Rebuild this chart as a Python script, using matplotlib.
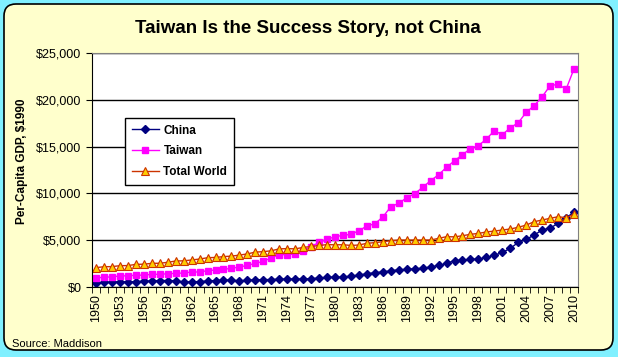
import matplotlib
matplotlib.use('Agg')
import matplotlib.pyplot as plt
from matplotlib.patches import FancyBboxPatch
from matplotlib.ticker import FuncFormatter

plt.rcParams['font.family'] = ['Liberation Sans', 'DejaVu Sans']

# Jahre (Kategorien)
years = list(range(1950, 2011))

# Pro-Kopf-BIP in 1990er Dollar
china = [448, 484, 537, 554, 558, 575, 619, 637, 693, 697,
         662, 553, 550, 590, 645, 690, 750, 740, 660, 730,
         770, 790, 800, 845, 850, 865, 855, 900, 960, 1035,
         1060, 1050, 1180, 1270, 1420, 1530, 1620, 1730, 1850, 1880,
         1960, 2000, 2150, 2300, 2520, 2830, 2850, 2960, 2980, 3170,
         3380, 3700, 4130, 4770, 5090, 5560, 6090, 6300, 6800, 7410,
         7980]
taiwan = [990, 1030, 1100, 1175, 1210, 1250, 1280, 1350, 1360, 1420,
          1460, 1500, 1600, 1610, 1745, 1820, 1890, 2000, 2140, 2310,
          2530, 2740, 3130, 3450, 3460, 3530, 3900, 4300, 4780, 5100,
          5370, 5520, 5630, 6010, 6520, 6760, 7480, 8580, 8940, 9540,
          9970, 10650, 11360, 12000, 12790, 13490, 14140, 14780, 15100, 15810,
          16700, 16270, 17020, 17550, 18670, 19370, 20330, 21510, 21660, 21120,
          23320]
world = [2070, 2170, 2180, 2280, 2290, 2420, 2440, 2530, 2540, 2640,
         2780, 2800, 2890, 2990, 3130, 3160, 3250, 3300, 3410, 3540,
         3730, 3780, 3870, 4080, 4100, 4080, 4230, 4330, 4440, 4530,
         4510, 4520, 4440, 4490, 4670, 4740, 4840, 4950, 5020, 5020,
         5020, 5020, 5020, 5200, 5380, 5360, 5480, 5630, 5730, 5880,
         5980, 6090, 6200, 6380, 6620, 6980, 7160, 7340, 7510, 7410,
         7760]

fig = plt.figure(figsize=(6.18, 3.57), dpi=100, facecolor='#80F0FF')
rahmen = FancyBboxPatch((4, 7), 609, 346, boxstyle='round,pad=0,rounding_size=12',
                        transform=None, facecolor='#FFFFCC', edgecolor='black', lw=1.2,
                        zorder=-10)
fig.add_artist(rahmen)

ax = fig.add_axes([0.1489, 0.196, 0.7864, 0.6555])
ax.set_facecolor('white')

x = list(range(len(years)))
ax.plot(x, china, color='#000080', marker='D', ms=4.5, lw=1, label='China')
ax.plot(x, taiwan, color='#FF00FF', marker='s', ms=4.5, lw=1, label='Taiwan')
ax.plot(x, world, color='#CC3300', marker='^', ms=5.5, mfc='#FFCC00', mec='#CC3300',
        mew=0.8, lw=1, label='Total World')

ax.set_ylim(0, 25000)
ax.set_yticks(range(0, 25001, 5000))
ax.yaxis.set_major_formatter(FuncFormatter(lambda v, p: '${:,.0f}'.format(v)))
ax.yaxis.grid(True, color='black', lw=1)
ax.set_axisbelow(True)

ax.set_xlim(-0.5, len(years) - 0.5)
ax.set_xticks(x[::3])
ax.set_xticklabels([str(y) for y in years[::3]], rotation=90)
ax.set_xticks([i - 0.5 for i in range(len(years) + 1)], minor=True)
ax.tick_params(axis='x', which='major', length=0, labelsize=9, pad=5)
ax.tick_params(axis='x', which='minor', length=4, direction='out', color='black')
ax.tick_params(axis='y', length=4, direction='out', labelsize=9, color='black')

for s in ['top', 'right']:
    ax.spines[s].set_color('#808080')
for s in ['left', 'bottom']:
    ax.spines[s].set_color('black')

fig.text(0.4976, 0.92, 'Taiwan Is the Success Story, not China', ha='center', va='center',
         fontsize=13.5, fontweight='bold')
fig.text(0.036, 0.549, 'Per-Capita GDP, $1990', rotation=90, ha='center', va='center',
         fontsize=8.5, fontweight='bold')
fig.text(0.019, 0.036, 'Source: Maddison', ha='left', va='center', fontsize=8)

leg = ax.legend(loc='upper left', bbox_to_anchor=(0.068, 0.722), fancybox=False,
                edgecolor='black', framealpha=1, handlelength=2.3, handletextpad=0.4,
                labelspacing=0.75, borderpad=0.55,
                prop={'weight': 'bold', 'size': 8.5}, borderaxespad=0)
leg.get_frame().set_linewidth(1)

fig.savefig('out.png', dpi=100, facecolor=fig.get_facecolor())
